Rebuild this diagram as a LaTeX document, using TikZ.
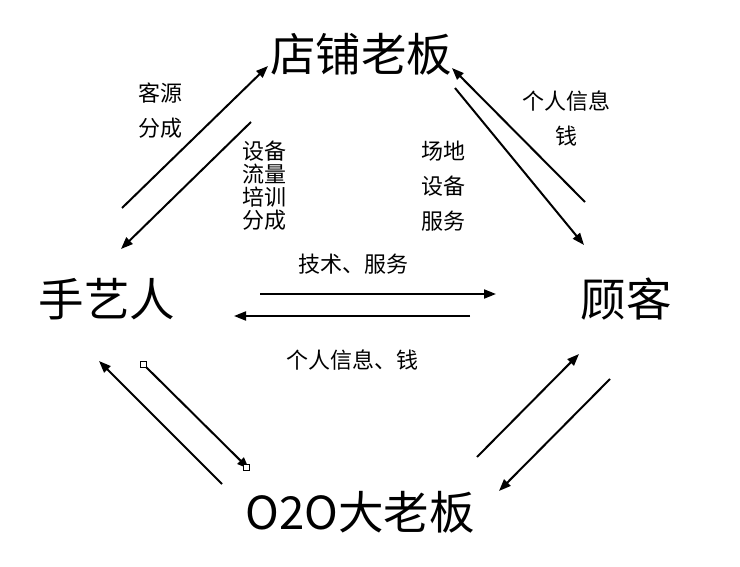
\documentclass[tikz,border=0pt]{standalone}
\usepackage{fontspec}
\setmainfont{Noto Sans CJK SC}
\usetikzlibrary{arrows.meta}
\begin{document}
\begin{tikzpicture}[x=1pt,y=-1pt,
  big/.style={font=\fontsize{45.5}{48}\selectfont, inner sep=0pt},
  lbl/.style={font=\fontsize{22}{24}\selectfont, inner sep=0pt},
  arr/.style={line width=2pt, -{Triangle[length=12pt,width=9pt]}},
  handle/.style={draw, fill=white, line width=0.6pt, minimum size=6pt, inner sep=0pt}]
\useasboundingbox (0,0) rectangle (740,567);
% main nodes
\node[big] (boss) at (361,54) {店铺老板};
\node[big] (craft) at (107,299) {手艺人};
\node[big] (cust) at (626,299) {顾客};
\node[big] (o2o) at (360,512) {O2O大老板};
% labels
\node[lbl] (l1) at (160,93) {客源};
\node[lbl] (l2) at (160,128) {分成};
\node[lbl] (l3) at (264,151) {设备};
\node[lbl] (l4) at (264,174) {流量};
\node[lbl] (l5) at (264,197) {培训};
\node[lbl] (l6) at (264,220) {分成};
\node[lbl] (l7) at (443,151) {场地};
\node[lbl] (l8) at (443,186) {设备};
\node[lbl] (l9) at (443,221) {服务};
\node[lbl] (l10) at (566,101) {个人信息};
\node[lbl] (l11) at (566,136) {钱};
\node[lbl] (l12) at (353,264) {技术、服务};
\node[lbl] (l13) at (352,360) {个人信息、钱};
% arrow endpoints
\coordinate (a1s) at (122,208); \coordinate (a1e) at (268,66);
\coordinate (a2s) at (251,122); \coordinate (a2e) at (121,249);
\coordinate (a3s) at (585,202); \coordinate (a3e) at (452,68);
\coordinate (a4s) at (455,88);  \coordinate (a4e) at (584,245);
\coordinate (a5s) at (260,294); \coordinate (a5e) at (496,294);
\coordinate (a6s) at (470,316); \coordinate (a6e) at (234,316);
\coordinate (a7s) at (222,484); \coordinate (a7e) at (99,361);
\coordinate (a8s) at (143,364); \coordinate (a8e) at (249,469);
\coordinate (a9s) at (477,457); \coordinate (a9e) at (579,354);
\coordinate (a10s) at (610,379); \coordinate (a10e) at (499,491);
\draw[arr] (a1s) -- (a1e);
\draw[arr] (a2s) -- (a2e);
\draw[arr] (a3s) -- (a3e);
\draw[arr] (a4s) -- (a4e);
\draw[arr] (a5s) -- (a5e);
\draw[arr] (a6s) -- (a6e);
\draw[arr] (a7s) -- (a7e);
\draw[arr] (a8s) -- (a8e);
\draw[arr] (a9s) -- (a9e);
\draw[arr] (a10s) -- (a10e);
\node[handle] (h1) at (143,364) {};
\node[handle] (h2) at (246,467) {};
\end{tikzpicture}
\end{document}
